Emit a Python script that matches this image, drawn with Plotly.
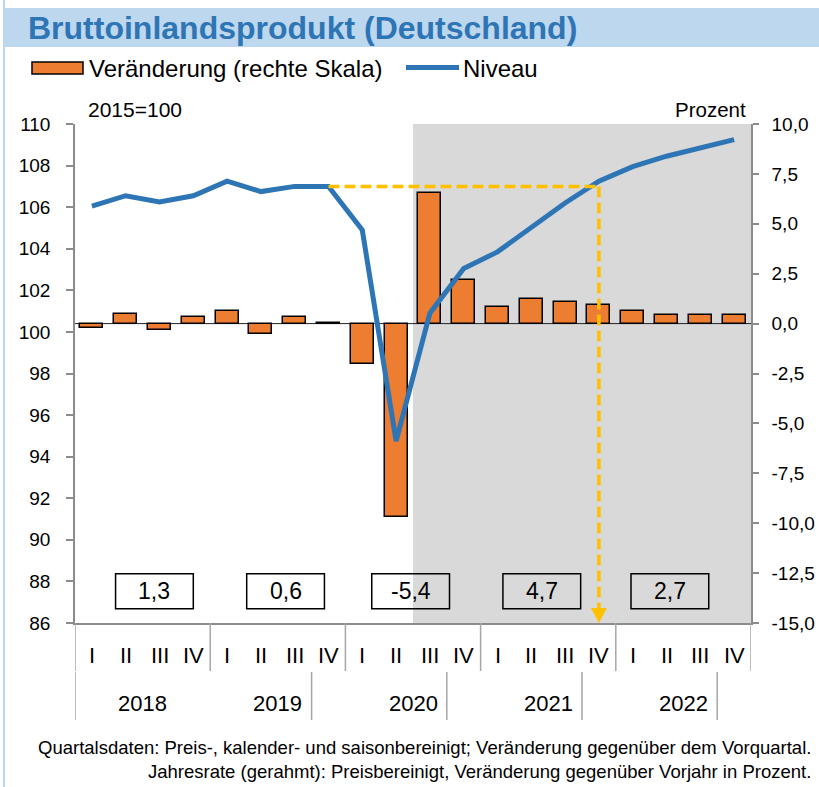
import plotly.graph_objects as go

# ---------------- data ----------------
quarters = ["I", "II", "III", "IV"] * 5
years = ["2018", "2019", "2020", "2021", "2022"]
niveau = [106.05, 106.55, 106.25, 106.55, 107.25, 106.75, 107.0, 107.0,
          104.9, 94.75, 100.9, 103.05, 103.85, 105.05, 106.2, 107.25,
          107.95, 108.45, 108.85, 109.25]
veraenderung = [-0.2, 0.5, -0.3, 0.35, 0.65, -0.5, 0.35, 0.03,
                -2.0, -9.7, 6.55, 2.2, 0.85, 1.25, 1.1, 0.95,
                0.65, 0.45, 0.45, 0.45]
jahresrate = [1.3, 0.6, -5.4, 4.7, 2.7]
right_ticks = [-15.0, -12.5, -10.0, -7.5, -5.0, -2.5, 0.0, 2.5, 5.0, 7.5, 10.0]
left_ticks = [86, 88, 90, 92, 94, 96, 98, 100, 102, 104, 106, 108, 110]

# ---------------- layout constants ----------------
W, H = 819, 787
L, R, T, B = 75, 68, 124, 164
PW, PH = W - L - R, H - T - B
FONT = "Arial, Liberation Sans, sans-serif"
BLUE = "#2E75B6"
ORANGE = "#ED7D31"
GOLD = "#FFC000"
AXIS = "#8C8C8C"
TITLEBG = "#BDD7EE"

def px(xp):
    return (xp - L) / PW

def py(yp):
    return (T + PH - yp) / PH

def de(v, d=1):
    return f"{v:.{d}f}".replace(".", ",")

n = len(niveau)
xs = list(range(n))

fig = go.Figure()

fig.add_trace(go.Bar(
    x=xs, y=veraenderung, yaxis="y", width=0.68,
    marker=dict(color=ORANGE, line=dict(color="black", width=1.5)),
    name="Veränderung (rechte Skala)", showlegend=False))

fig.add_trace(go.Scatter(
    x=xs, y=niveau, yaxis="y2", mode="lines",
    line=dict(color=BLUE, width=5), name="Niveau", showlegend=False))

shapes = []
shapes.append(dict(type="rect", xref="x", yref="paper", x0=9.5, x1=n - 0.5,
                   y0=0, y1=1, fillcolor="#D9D9D9", line_width=0, layer="below"))
shapes.append(dict(type="line", xref="paper", yref="y", x0=0, x1=1, y0=0, y1=0,
                   line=dict(color="#222222", width=1), layer="below"))

ref_i, tgt_i = 7, 15
ref_level = niveau[ref_i]
ymin2 = left_ticks[0]
arrow_h = 15 / PH * (left_ticks[-1] - left_ticks[0])
arrow_w = 16 / PW * n
shapes.append(dict(type="line", xref="x", yref="y2", x0=ref_i, x1=tgt_i,
                   y0=ref_level, y1=ref_level,
                   line=dict(color=GOLD, width=3.5, dash="11px,5px"), layer="above"))
shapes.append(dict(type="line", xref="x", yref="y2", x0=tgt_i, x1=tgt_i,
                   y0=ref_level, y1=ymin2 + arrow_h,
                   line=dict(color=GOLD, width=3.5, dash="11px,5px"), layer="above"))
shapes.append(dict(type="path", xref="x", yref="y2",
                   path=f"M {tgt_i - arrow_w/2},{ymin2 + arrow_h} L {tgt_i + arrow_w/2},{ymin2 + arrow_h} L {tgt_i},{ymin2} Z",
                   fillcolor=GOLD, line_width=0, layer="above"))

annotations = []
box_cx = [1.85, 5.73, 9.43, 13.31, 17.1]
box_w = 2.3
for cx, v in zip(box_cx, jahresrate):
    shapes.append(dict(type="rect", xref="x", yref="y2", x0=cx - box_w/2, x1=cx + box_w/2,
                       y0=86.68, y1=88.37, line=dict(color="black", width=1.5),
                       fillcolor="rgba(0,0,0,0)", layer="above"))
    annotations.append(dict(x=cx, y=87.52, xref="x", yref="y2", showarrow=False,
                            text=de(v), font=dict(family=FONT, size=23, color="black")))

for i, q in enumerate(quarters):
    annotations.append(dict(x=i, y=0, xref="x", yref="paper", yanchor="middle",
                            yshift=-32, showarrow=False, text=q,
                            font=dict(family=FONT, size=22, color="black")))
for j, yr in enumerate(years):
    annotations.append(dict(x=4 * j + 1.5, y=0, xref="x", yref="paper", yanchor="middle",
                            yshift=-80, showarrow=False, text=yr,
                            font=dict(family=FONT, size=22, color="black")))

sep_q = [-0.5, 3.5, 7.5, 11.5, 15.5, n - 0.5]
for s in sep_q:
    shapes.append(dict(type="line", xref="x", yref="paper", x0=s, x1=s,
                       y0=0, y1=py(671), line=dict(color="#A6A6A6", width=1.5)))
sep_y = [-0.5, 6.5, 10.5, 14.5, 18.5]
for s in sep_y:
    shapes.append(dict(type="line", xref="x", yref="paper", x0=s, x1=s,
                       y0=py(672), y1=py(720), line=dict(color="#A6A6A6", width=1.5)))

shapes.append(dict(type="rect", xref="paper", yref="paper", x0=px(4), x1=px(830),
                   y0=py(47), y1=py(8), fillcolor=TITLEBG, line_width=0, layer="below"))
shapes.append(dict(type="line", xref="paper", yref="paper", x0=px(4), x1=px(4),
                   y0=py(0), y1=py(787), line=dict(color=TITLEBG, width=2), layer="below"))

annotations.append(dict(x=px(26), y=py(28), xref="paper", yref="paper", xanchor="left",
                        yanchor="middle", showarrow=False,
                        text="<b>Bruttoinlandsprodukt (Deutschland)</b>",
                        font=dict(family=FONT, size=32, color=BLUE)))

shapes.append(dict(type="rect", xref="paper", yref="paper", x0=px(32), x1=px(83),
                   y0=py(74), y1=py(62), fillcolor=ORANGE,
                   line=dict(color="black", width=1.5)))
shapes.append(dict(type="line", xref="paper", yref="paper", x0=px(406), x1=px(459),
                   y0=py(67.5), y1=py(67.5), line=dict(color=BLUE, width=5)))
annotations.append(dict(x=px(87), y=py(68), xref="paper", yref="paper", xanchor="left",
                        yanchor="middle", showarrow=False, text="Veränderung (rechte Skala)",
                        font=dict(family=FONT, size=24, color="black")))
annotations.append(dict(x=px(461), y=py(68), xref="paper", yref="paper", xanchor="left",
                        yanchor="middle", showarrow=False, text="Niveau",
                        font=dict(family=FONT, size=24, color="black")))

annotations.append(dict(x=px(86), y=py(110), xref="paper", yref="paper", xanchor="left",
                        yanchor="middle", showarrow=False, text="2015=100",
                        font=dict(family=FONT, size=21, color="black")))
annotations.append(dict(x=px(748), y=py(110), xref="paper", yref="paper", xanchor="right",
                        yanchor="middle", showarrow=False, text="Prozent",
                        font=dict(family=FONT, size=20.5, color="black")))

annotations.append(dict(x=px(813), y=py(747), xref="paper", yref="paper", xanchor="right",
                        yanchor="middle", showarrow=False,
                        text="Quartalsdaten: Preis-, kalender- und saisonbereinigt; Veränderung gegenüber dem Vorquartal.",
                        font=dict(family=FONT, size=18.5, color="black")))
annotations.append(dict(x=px(813), y=py(771), xref="paper", yref="paper", xanchor="right",
                        yanchor="middle", showarrow=False,
                        text="Jahresrate (gerahmt): Preisbereinigt, Veränderung gegenüber Vorjahr in Prozent.",
                        font=dict(family=FONT, size=18.5, color="black")))

fig.update_layout(
    template="none",
    width=W, height=H,
    margin=dict(l=L, r=R, t=T, b=B, pad=0, autoexpand=False),
    paper_bgcolor="white", plot_bgcolor="white",
    separators=",.",
    showlegend=False,
    bargap=0,
    hovermode=False,
    xaxis=dict(range=[-0.5, n - 0.5], showgrid=False, zeroline=False,
               showticklabels=False, ticks="", showline=True, automargin=False,
               linecolor=AXIS, linewidth=1.5, fixedrange=True),
    yaxis=dict(side="right", range=[right_ticks[0], right_ticks[-1]],
               tickvals=right_ticks, ticktext=[de(v) for v in right_ticks],
               showgrid=False, zeroline=False, showline=True, linecolor=AXIS,
               linewidth=1.5, ticks="outside", ticklen=6, tickwidth=1.5, tickcolor=AXIS,
               ticklabelstandoff=9, automargin=False,
               tickfont=dict(family=FONT, size=19, color="black")),
    yaxis2=dict(side="left", overlaying="y", range=[left_ticks[0], left_ticks[-1]],
                tickvals=left_ticks, ticktext=[str(v) for v in left_ticks],
                showgrid=False, zeroline=False, showline=True, linecolor=AXIS,
                linewidth=1.5, ticks="outside", ticklen=7, tickwidth=1.5, tickcolor=AXIS,
                ticklabelstandoff=12, automargin=False,
                tickfont=dict(family=FONT, size=19, color="black")),
    shapes=shapes,
    annotations=annotations,
)

fig.write_html("out.html", config={"displayModeBar": False},
               post_script="document.body.style.margin='0px';")
